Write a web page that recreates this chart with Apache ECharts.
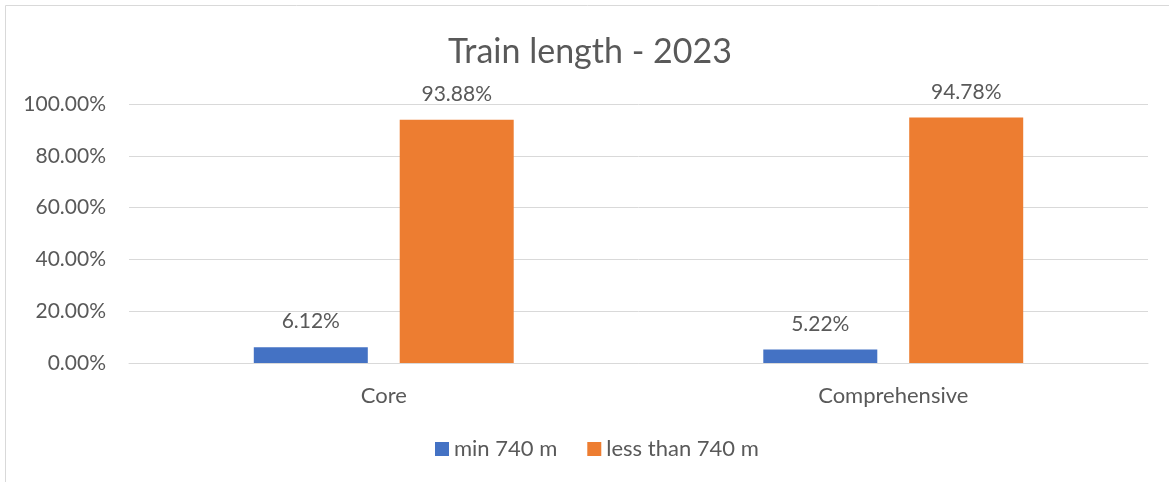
<!DOCTYPE html>
<html>
<head>
<meta charset="utf-8">
<script src="https://cdn.jsdelivr.net/npm/echarts@6/dist/echarts.min.js"></script>
<style>
  html, body { margin: 0; padding: 0; background: #fff; }
  #chart { width: 1169px; height: 482px; }
</style>
</head>
<body>
<div id="chart"></div>
<script>
// chart data
var categories = ['Core', 'Comprehensive'];
var minLength = [6.12, 5.22];
var lessThan = [93.88, 94.78];
var seriesNames = ['min 740 m', 'less than 740 m'];

var textColor = '#595959';
var font = 'Lato, Carlito, "Open Sans", sans-serif';

var chart = echarts.init(document.getElementById('chart'));

function pct(v) {
    return v.toFixed(2) + '%';
}

chart.setOption({
    animation: false,
    title: {
        text: 'Train length - 2023',
        left: 443,
        top: 30,
        textStyle: { color: textColor, fontFamily: font, fontSize: 34, fontWeight: 'normal' }
    },
    graphic: [{
        type: 'rect',
        shape: { x: 5.5, y: 5.5, width: 1300, height: 600 },
        style: { fill: 'none', stroke: '#d9d9d9', lineWidth: 1 },
        silent: true
    }],
    legend: {
        bottom: 17,
        left: 430,
        itemWidth: 14,
        itemHeight: 14,
        itemGap: 30,
        icon: 'rect',
        textStyle: { color: textColor, fontFamily: font, fontSize: 22 },
        data: seriesNames
    },
    grid: { left: 129, right: 21, top: 104, bottom: 119 },
    xAxis: {
        type: 'category',
        data: categories,
        axisLine: { lineStyle: { color: '#d9d9d9', width: 1 } },
        axisTick: { show: false },
        axisLabel: { color: textColor, fontFamily: font, fontSize: 22, margin: 22 }
    },
    yAxis: {
        type: 'value',
        min: 0,
        max: 100,
        interval: 20,
        axisLine: { show: false },
        axisTick: { show: false },
        splitLine: { lineStyle: { color: '#d9d9d9', width: 1 } },
        axisLabel: {
            color: textColor, fontFamily: font, fontSize: 21, margin: 23,
            formatter: function (v) { return pct(v); }
        }
    },
    series: [
        {
            name: seriesNames[0],
            type: 'bar',
            data: minLength,
            barWidth: 114,
            barGap: '28%',
            itemStyle: { color: '#4472c4' },
            label: {
                show: true, position: 'top', distance: 15,
                color: textColor, fontFamily: font, fontSize: 21,
                formatter: function (p) { return pct(p.value); }
            }
        },
        {
            name: seriesNames[1],
            type: 'bar',
            data: lessThan,
            barWidth: 114,
            itemStyle: { color: '#ed7d31' },
            label: {
                show: true, position: 'top', distance: 15,
                color: textColor, fontFamily: font, fontSize: 21,
                formatter: function (p) { return pct(p.value); }
            }
        }
    ]
});
</script>
</body>
</html>
